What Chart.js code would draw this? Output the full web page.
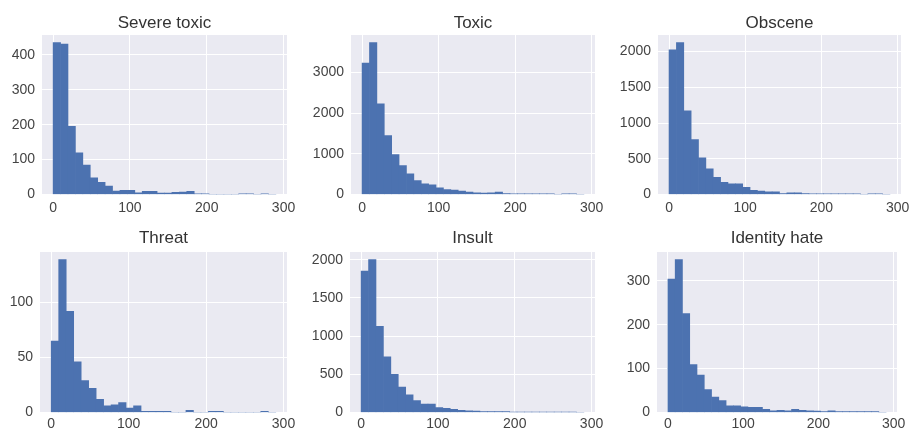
<!DOCTYPE html>
<html>
<head>
<meta charset="utf-8">
<script src="https://cdn.jsdelivr.net/npm/chart.js@4"></script>
<style>
  html, body { margin: 0; padding: 0; background: #fff; }
  #wrap { position: relative; width: 911px; height: 432px; overflow: hidden; }
  .cell { position: absolute; }
</style>
</head>
<body>
<div id="wrap"></div>
<script>
// histogram bins (comment length in characters), 30 bins
const binCount = 30;
const binMin = 0;
const binMax = 290;

const titles = ['Severe toxic', 'Toxic', 'Obscene', 'Threat', 'Insult', 'Identity hate'];

const severeToxic  = [435, 431, 195, 119, 84, 48, 35, 24, 10, 12, 12, 5, 9, 9, 4, 4, 6, 7, 9, 2, 2, 0, 0, 0, 0, 2, 2, 0, 2, 0];
const toxic        = [3230, 3737, 2232, 1447, 981, 711, 507, 343, 262, 237, 164, 123, 106, 82, 57, 41, 33, 41, 57, 25, 16, 16, 16, 16, 16, 16, 0, 16, 16, 0];
const obscene      = [2023, 2126, 1172, 767, 512, 358, 242, 172, 149, 149, 102, 60, 47, 37, 37, 14, 23, 23, 14, 9, 9, 9, 9, 9, 9, 9, 0, 9, 9, 0];
const threat       = [65, 139, 92, 46, 29, 22, 12, 6, 7, 9, 4, 6, 1, 1, 1, 1, 0, 0, 2, 0, 0, 1, 1, 0, 0, 0, 0, 0, 1, 0];
const insult       = [1850, 2000, 1128, 730, 500, 332, 230, 155, 111, 111, 66, 53, 40, 27, 22, 18, 13, 13, 13, 13, 4, 4, 4, 4, 4, 4, 4, 4, 4, 0];
const identityHate = [304, 348, 225, 109, 85, 52, 35, 27, 15, 15, 13, 12, 12, 7, 4, 5, 4, 7, 5, 4, 3, 2, 4, 2, 2, 2, 2, 2, 2, 0];

const xTicks = [0, 100, 200, 300];
const yStep = [100, 1000, 500, 50, 500, 100];

const series = [severeToxic, toxic, obscene, threat, insult, identityHate];

const binWidth = (binMax - binMin) / binCount;
const binCenters = severeToxic.map((_, i) => binMin + binWidth * (i + 0.5));

// cell boxes on the page and the plot area inside each one
const cells = [
  {left: 0,   top: 0,   w: 300, h: 216, yw: 42, rp: 13, tp: 13, tb: 1.6, xh: 21.5},
  {left: 300, top: 0,   w: 305, h: 216, yw: 51, rp: 10, tp: 13, tb: 1.6, xh: 21.5},
  {left: 605, top: 0,   w: 306, h: 216, yw: 53, rp: 10, tp: 13, tb: 1.6, xh: 21.5},
  {left: 0,   top: 216, w: 300, h: 216, yw: 40, rp: 13, tp: 12, tb: 3.6, xh: 19.5},
  {left: 300, top: 216, w: 305, h: 216, yw: 50, rp: 10, tp: 12, tb: 3.6, xh: 19.5},
  {left: 605, top: 216, w: 306, h: 216, yw: 52, rp: 14, tp: 12, tb: 3.6, xh: 19.5}
];

const plotBg = {
  id: 'plotBg',
  beforeDraw(chart) {
    const a = chart.chartArea;
    const c = chart.ctx;
    c.save();
    c.fillStyle = '#EAEAF2';
    c.fillRect(a.left, a.top, a.right - a.left, a.bottom - a.top);
    c.restore();
  }
};

const font = "'Liberation Sans', Arial, sans-serif";
const wrap = document.getElementById('wrap');

series.forEach((vals, k) => {
  const cell = cells[k];
  const div = document.createElement('div');
  div.className = 'cell';
  div.style.left = cell.left + 'px';
  div.style.top = cell.top + 'px';
  div.style.width = cell.w + 'px';
  div.style.height = cell.h + 'px';
  const cv = document.createElement('canvas');
  div.appendChild(cv);
  wrap.appendChild(div);

  const yMax = Math.max(...vals) * 1.05;
  const yTicks = [];
  for (let t = 0; t <= yMax; t += yStep[k]) yTicks.push(t);

  new Chart(cv, {
    type: 'bar',
    data: {
      datasets: [{
        data: vals.map((v, i) => ({x: binCenters[i], y: v})),
        backgroundColor: '#4C72B0',
        borderWidth: 0,
        barPercentage: 1,
        categoryPercentage: 1
      }]
    },
    options: {
      responsive: true,
      maintainAspectRatio: false,
      animation: false,
      layout: { padding: { left: 0, right: cell.rp, top: 0, bottom: 0 } },
      plugins: {
        legend: { display: false },
        tooltip: { enabled: false },
        title: {
          display: true,
          fullSize: false,
          text: titles[k],
          color: '#333',
          font: { family: font, size: 17, weight: 'normal', lineHeight: 1.2 },
          padding: { top: cell.tp, bottom: cell.tb }
        }
      },
      scales: {
        x: {
          type: 'linear',
          offset: false,
          min: -14.5,
          max: 304.5,
          afterBuildTicks: (s) => { s.ticks = xTicks.map(v => ({value: v})); },
          afterFit: (s) => { s.height = cell.xh; s.paddingLeft = 0; s.paddingRight = 0; },
          grid: { color: '#ffffff', lineWidth: 1, drawTicks: false, offset: false },
          border: { display: false },
          ticks: {
            color: '#444',
            font: { family: font, size: 14 },
            padding: k < 3 ? 5 : 3,
            maxRotation: 0,
            autoSkip: false
          }
        },
        y: {
          min: 0,
          max: yMax,
          afterBuildTicks: (s) => { s.ticks = yTicks.map(v => ({value: v})); },
          afterFit: (s) => { s.width = cell.yw; s.paddingTop = 0; s.paddingBottom = 0; },
          grid: { color: '#ffffff', lineWidth: 1, drawTicks: false },
          border: { display: false },
          ticks: {
            color: '#444',
            font: { family: font, size: 14 },
            padding: 7,
            autoSkip: false,
            callback: (v) => String(v)
          }
        }
      }
    },
    plugins: [plotBg]
  });
});
</script>
</body>
</html>
